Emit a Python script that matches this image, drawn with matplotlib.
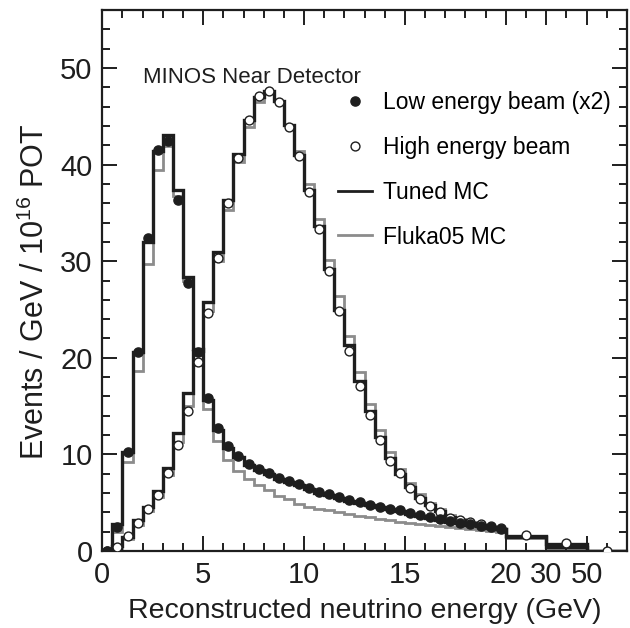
import numpy as np
import matplotlib
matplotlib.use("Agg")
import matplotlib.pyplot as plt
from matplotlib.lines import Line2D

plt.rcParams['font.family'] = ['Liberation Sans', 'DejaVu Sans']
plt.rcParams['mathtext.default'] = 'regular'

# ---- data -------------------------------------------------------------
# bin edges: 0.5 GeV bins up to 20 GeV, then 20-30, 30-50, 50-100
fine_edges = [i * 0.5 for i in range(41)]
coarse_edges = [30, 50, 100]
edges = np.array(fine_edges + coarse_edges, dtype=float)

# Low energy beam data (x2), only for 0-20 GeV bins
le_data = [0.0, 2.5, 10.3, 20.6, 32.4, 41.5, 42.4, 36.3, 27.7, 20.6,
           15.8, 12.7, 10.9, 9.8, 9.0, 8.5, 8.06, 7.6, 7.2, 6.9,
           6.5, 6.1, 5.9, 5.6, 5.3, 5.1, 4.8, 4.6, 4.4, 4.2,
           3.9, 3.7, 3.5, 3.3, 3.1, 2.9, 2.75, 2.6, 2.45, 2.3]
le_tuned = [0.0, 2.8, 10.3, 20.6, 32.0, 41.4, 43.1, 37.4, 28.4, 20.9,
            15.6, 12.5, 10.7, 9.7, 8.9, 8.4, 7.95, 7.5, 7.1, 6.8,
            6.4, 6.0, 5.8, 5.5, 5.2, 5.0, 4.75, 4.55, 4.3, 4.1,
            3.85, 3.65, 3.45, 3.25, 3.05, 2.85, 2.7, 2.55, 2.4, 2.25,
            1.5, 0.4, 0.0]
le_fluka = [0.0, 2.0, 9.2, 18.6, 29.7, 39.4, 41.9, 36.8, 27.9, 20.3,
            14.7, 11.4, 9.4, 8.3, 7.5, 6.8, 6.3, 5.7, 5.4, 4.9,
            4.6, 4.4, 4.2, 4.0, 3.8, 3.65, 3.5, 3.35, 3.2, 3.05,
            2.9, 2.8, 2.7, 2.6, 2.5, 2.4, 2.3, 2.2, 2.1, 2.0,
            1.3, 0.3, 0.0]

# High energy beam
he_data = [0.05, 0.45, 1.6, 2.9, 4.3, 5.8, 8.1, 11.0, 14.5, 19.6,
           24.6, 30.3, 36.0, 40.7, 44.6, 47.1, 47.6, 46.5, 43.9, 40.9,
           37.2, 33.3, 29.0, 24.8, 20.7, 17.1, 14.1, 11.5, 9.3, 8.1,
           6.5, 5.4, 4.7, 4.0, 3.4, 3.2, 3.0, 2.8, 2.6, 2.4,
           1.7, 0.8, 0.0]
he_tuned = [0.1, 0.5, 1.5, 3.2, 4.6, 6.2, 8.6, 12.2, 16.4, 20.7,
            25.8, 31.0, 36.3, 41.1, 44.6, 47.0, 47.6, 46.6, 44.1, 41.0,
            37.4, 33.6, 29.2, 25.0, 21.3, 17.6, 14.5, 11.8, 9.6, 8.0,
            6.6, 5.5, 4.8, 4.1, 3.5, 3.2, 2.9, 2.7, 2.5, 2.3,
            1.6, 0.7, 0.0]
he_fluka = [0.1, 0.3, 1.2, 2.7, 4.1, 5.6, 7.9, 11.3, 15.0, 19.3,
            24.8, 30.0, 35.3, 40.3, 43.9, 46.5, 47.4, 46.6, 44.1, 41.4,
            38.0, 34.4, 30.1, 26.4, 22.3, 18.5, 15.2, 12.5, 10.2, 8.5,
            7.0, 5.9, 5.0, 4.3, 3.7, 3.3, 3.0, 2.7, 2.5, 2.3,
            1.4, 0.35, 0.0]

major_xticks = [0, 5, 10, 15, 20, 30, 50]
minor_xticks = [1, 2, 3, 4, 6, 7, 8, 9, 11, 12, 13, 14, 16, 17, 18, 19, 25, 40, 75]
xtick_labels = ['0', '5', '10', '15', '20', '30', '50']


# ---- broken (piecewise-linear) x scale ---------------------------------
def fwd(E):
    E = np.asarray(E, dtype=float)
    return np.where(E <= 20, E,
           np.where(E <= 30, 20 + (E - 20) / 5.0,
           np.where(E <= 50, 22 + (E - 30) / 10.0,
                    24 + (E - 50) / 25.0)))


def inv(u):
    u = np.asarray(u, dtype=float)
    return np.where(u <= 20, u,
           np.where(u <= 22, 20 + (u - 20) * 5.0,
           np.where(u <= 24, 30 + (u - 22) * 10.0,
                    50 + (u - 24) * 25.0)))


fig = plt.figure(figsize=(6.30, 6.28), dpi=100)
ax = fig.add_axes([0.1624, 0.1226, 0.8326, 0.8614])
ax.set_xscale('function', functions=(fwd, inv))

centers = 0.5 * (edges[:-1] + edges[1:])

gray = '#8c8c8c'
black = '#1e1e1e'

ax.stairs(le_fluka, edges, color=gray, lw=2.0, baseline=None)
ax.stairs(he_fluka, edges, color=gray, lw=2.0, baseline=None)
ax.stairs(le_tuned, edges, color=black, lw=2.4, baseline=None)
ax.stairs(he_tuned, edges, color=black, lw=2.4, baseline=None)

ax.plot(centers, he_data, 'o', ls='none', mfc='white', mec=black, mew=1.0, ms=6.4, zorder=5)
ax.plot(centers[:len(le_data)], le_data, 'o', ls='none', mfc=black, mec=black, ms=6.6, zorder=6)

ax.set_xlim(0, 100)
ax.set_ylim(0, 56)

ax.set_xticks(major_xticks)
ax.set_xticklabels(xtick_labels)
ax.set_xticks(minor_xticks, minor=True)
ax.set_yticks([0, 10, 20, 30, 40, 50])
ax.set_yticks(np.arange(0, 56, 2), minor=True)

ax.tick_params(which='both', direction='in', top=True, right=True, width=1.4, colors=black)
ax.tick_params(which='major', length=11, labelsize=21, pad=7)
ax.tick_params(which='minor', length=5.5)
for s in ax.spines.values():
    s.set_linewidth(1.6)
    s.set_color(black)

ax.set_xlabel('Reconstructed neutrino energy (GeV)', fontsize=20.5, color=black, labelpad=7)
ax.set_ylabel('Events / GeV / 10$^{16}$ POT', fontsize=22, color=black)
ax.yaxis.set_label_coords(-0.097, 0.48)

ax.text(0.078, 0.876, 'MINOS Near Detector', transform=ax.transAxes,
        fontsize=16, color=black, va='center', ha='left')

handles = [
    Line2D([], [], marker='o', ls='none', mfc=black, mec=black, ms=6.6),
    Line2D([], [], marker='o', ls='none', mfc='white', mec=black, mew=1.0, ms=6.4),
    Line2D([], [], color=black, lw=2.0),
    Line2D([], [], color=gray, lw=2.0),
]
labels = ['Low energy beam (x2)', 'High energy beam', 'Tuned MC', 'Fluka05 MC']
ax.legend(handles, labels, loc='upper left', bbox_to_anchor=(0.449, 0.85),
          frameon=False, fontsize=16.5, handlelength=1.5, handletextpad=0.45,
          labelspacing=0.95, borderaxespad=0, borderpad=0)

fig.savefig('out.png', dpi=100)
